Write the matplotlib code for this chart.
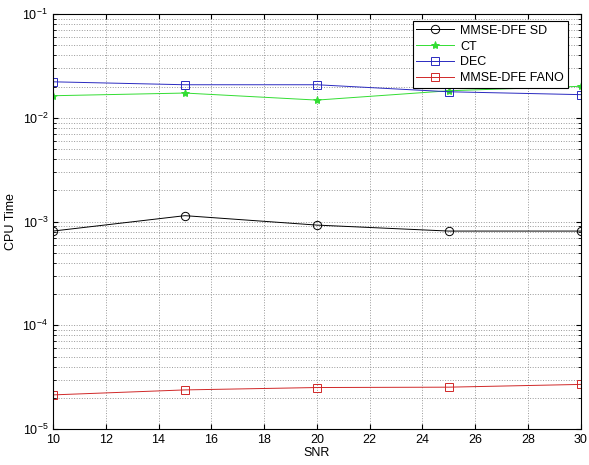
import matplotlib
matplotlib.use("Agg")
import matplotlib.pyplot as plt
from matplotlib.ticker import LogLocator, NullFormatter

plt.rcParams['font.family'] = ['Liberation Sans', 'DejaVu Sans']

snr = [10, 15, 20, 25, 30]
mmse_sd = [8.1e-4, 1.14e-3, 9.25e-4, 8.1e-4, 8.1e-4]
ct = [0.0163, 0.0173, 0.0148, 0.0182, 0.0201]
dec = [0.0222, 0.0208, 0.0208, 0.0178, 0.0167]
mmse_fano = [2.14e-5, 2.39e-5, 2.52e-5, 2.54e-5, 2.70e-5]

fig = plt.figure(figsize=(5.89, 4.65), dpi=100)
ax = fig.add_axes([0.09, 0.077, 0.896, 0.893])

ax.semilogy(snr, mmse_sd, color='black', marker='o', markersize=6,
            markerfacecolor='none', markeredgewidth=0.7, linewidth=0.7,
            label='MMSE-DFE SD')
ax.semilogy(snr, ct, color='#33dd33', marker='*', markersize=6,
            markeredgewidth=0.7, linewidth=0.7, label='CT')
ax.semilogy(snr, dec, color='#2a2ac0', marker='s', markersize=6,
            markerfacecolor='none', markeredgewidth=0.7, linewidth=0.7,
            label='DEC')
ax.semilogy(snr, mmse_fano, color='#d02828', marker='s', markersize=6,
            markerfacecolor='none', markeredgewidth=0.7, linewidth=0.7,
            label='MMSE-DFE FANO')

ax.set_xlim(10, 30)
ax.set_ylim(1e-5, 1e-1)
ax.set_xticks(range(10, 31, 2))
ax.yaxis.set_major_locator(LogLocator(base=10, numticks=10))
ax.yaxis.set_minor_locator(LogLocator(base=10, subs=range(2, 10), numticks=20))
ax.yaxis.set_minor_formatter(NullFormatter())

ax.grid(True, which='major', linestyle=':', color='#999999', linewidth=0.7)
ax.grid(True, which='minor', axis='y', linestyle=':', color='#999999', linewidth=0.7)
ax.tick_params(which='both', direction='in', top=True, right=True, labelsize=9)
ax.tick_params(which='minor', length=2.5)
for s in ax.spines.values():
    s.set_linewidth(0.8)

ax.set_xlabel('SNR', fontsize=9, labelpad=1)
ax.set_ylabel('CPU Time', fontsize=9)

leg = ax.legend(loc='upper right', bbox_to_anchor=(0.975, 0.983), fontsize=9,
                fancybox=False, edgecolor='black', framealpha=1,
                handlelength=3.0, borderpad=0.3, labelspacing=0.3,
                handletextpad=0.5, borderaxespad=0)
leg.get_frame().set_linewidth(0.8)

fig.savefig('out.png', dpi=100)
